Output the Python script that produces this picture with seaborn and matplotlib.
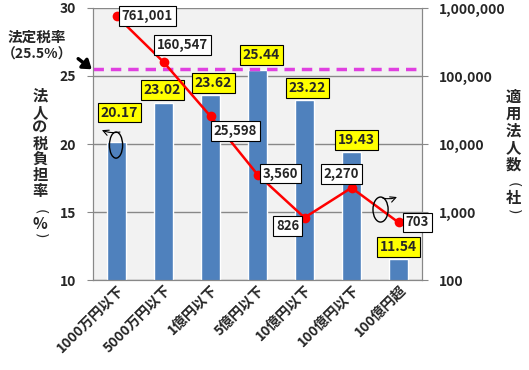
import numpy as np
import matplotlib
matplotlib.use('Agg')
import matplotlib.pyplot as plt
from matplotlib.patches import Ellipse, FancyArrowPatch
from matplotlib.ticker import FuncFormatter, FixedLocator, NullLocator
import seaborn as sns

# data
categories = ['1000万円以下', '5000万円以下', '1億円以下', '5億円以下',
              '10億円以下', '100億円以下', '100億円超']
tax_rate = [20.17, 23.02, 23.62, 25.44, 23.22, 19.43, 11.54]
n_companies = [761001, 160547, 25598, 3560, 826, 2270, 703]
legal_rate = 25.5

sns.set_style('white')
plt.rcParams['font.family'] = ['Noto Sans CJK JP', 'DejaVu Sans']

W, H = 529, 370
fig = plt.figure(figsize=(W / 100, H / 100), dpi=100)
ax = fig.add_axes([93 / W, 1 - 280 / H, 329 / W, 272 / H])
ax.set_facecolor('#F2F2F2')
ax.set_axisbelow(True)

sns.barplot(x=categories, y=tax_rate, ax=ax, color='#4F81BD', width=0.4,
            saturation=1, zorder=2)
ax.set_ylim(10, 30)
ax.yaxis.set_major_locator(FixedLocator([10, 15, 20, 25, 30]))
ax.yaxis.grid(True, color='#888888', linewidth=1)
ax.set_xlim(-0.5, len(categories) - 0.5)

# legal tax rate line
ax.axhline(legal_rate, color='#E040E0', linestyle=(0, (3, 2)), linewidth=2.5,
           zorder=3)

# second axis: number of companies (log)
ax2 = ax.twinx()
sns.lineplot(x=np.arange(len(categories)), y=n_companies, ax=ax2, color='#FF0000',
             linewidth=1.8, marker='o', markersize=7, markeredgewidth=0, zorder=5)
ax2.set_yscale('log')
ax2.set_ylim(100, 1000000)
ax2.yaxis.set_major_locator(FixedLocator([100, 1000, 10000, 100000, 1000000]))
ax2.yaxis.set_minor_locator(NullLocator())
ax2.yaxis.set_major_formatter(FuncFormatter(lambda v, p: f'{int(v):,}'))

for a in (ax, ax2):
    for s in a.spines.values():
        s.set_color('#888888')
    a.spines['top'].set_visible(False)
    a.tick_params(axis='both', direction='out', length=4, color='#888888',
                  labelsize=10)
    for lab in a.get_yticklabels():
        lab.set_fontweight('bold')
ax.tick_params(axis='y', pad=8)
ax2.tick_params(axis='y', pad=8)
ax.set_xticks(np.arange(-0.5, len(categories), 1.0), minor=True)
ax.tick_params(axis='x', which='major', length=0, pad=2)
ax.tick_params(axis='x', which='minor', length=5, color='#888888', direction='out')
ax.set_xticklabels(categories, rotation=45, ha='right', rotation_mode='anchor',
                   fontweight='bold', fontsize=10)

ax.set_xlabel('')
ax.set_ylabel('')
ax2.set_ylabel('')

# bar value labels (yellow boxes)
bar_offsets = [(3, 29), (-1, 13), (3, 12), (4, 15), (3, 12), (5, 12), (0, 12)]
for i, v in enumerate(tax_rate):
    ax.annotate(f'{v:.2f}', (i, v), xytext=bar_offsets[i], textcoords='offset pixels',
                ha='center', va='center', fontsize=10, fontweight='bold', zorder=6,
                bbox=dict(boxstyle='square,pad=0.2', fc='#FFFF00', ec='black', lw=0.8))

# line value labels (white boxes)
line_offsets = [(31, 0), (19, 17), (25, -15), (23, 1), (-17, -8), (-10, 14), (19, 0)]
for i, v in enumerate(n_companies):
    ax2.annotate(f'{v:,}', (i, v), xytext=line_offsets[i], textcoords='offset pixels',
                 ha='center', va='center', fontsize=9.5, fontweight='bold', zorder=6,
                 bbox=dict(boxstyle='square,pad=0.22', fc='white', ec='black', lw=0.8))


# axis titles, one character per line like the vertical text in the original
def vtext(x, y_first, text, pitch):
    for k, ch in enumerate(text):
        fig.text(x / W, 1 - (y_first + k * pitch) / H, ch, ha='center', va='center',
                 fontsize=11, fontweight='bold')


def vparen(x, y_open, y_mid, y_close, ch):
    fig.text(x / W, 1 - y_open / H, '(', ha='center', va='center', rotation=-90,
             fontsize=10, family='DejaVu Sans')
    fig.text(x / W, 1 - y_mid / H, ch, ha='center', va='center', fontsize=11,
             fontweight='bold')
    fig.text(x / W, 1 - y_close / H, ')', ha='center', va='center', rotation=-90,
             fontsize=10, family='DejaVu Sans')


vtext(40, 96, '法人の税負担率', 15.8)
vparen(40, 212, 224, 236, '%')
vtext(513, 97, '適用法人数', 16.8)
vparen(513, 185, 198, 212, '社')

# legal rate note with arrow
fig.text(37 / W, 1 - 37 / H, '法定税率', ha='center', va='center',
         fontsize=10.5, fontweight='bold')
fig.text(2 / W, 1 - 55 / H, '（25.5%）', ha='left', va='center',
         fontsize=10, fontweight='bold')
fig.add_artist(FancyArrowPatch(
    (76 / W, 1 - 57 / H), (94 / W, 1 - 71 / H), transform=fig.transFigure,
    arrowstyle='-|>,head_length=5,head_width=3.5', color='black', lw=2.5))

# ellipse markers telling which axis each series uses
ax.add_patch(Ellipse((0.070, 0.496), 0.040, 0.096, transform=ax.transAxes,
                     fill=False, ec='black', lw=1, zorder=7))
ax.annotate('', xy=(0.027, 0.551), xytext=(0.082, 0.544), xycoords='axes fraction',
            arrowprops=dict(arrowstyle='->', lw=0.8, color='black', shrinkA=0,
                            shrinkB=0, connectionstyle='arc3,rad=-0.15'), zorder=7)
ax2.add_patch(Ellipse((0.874, 0.259), 0.046, 0.092, transform=ax2.transAxes,
                      fill=False, ec='black', lw=1, zorder=7))
ax2.annotate('', xy=(0.924, 0.305), xytext=(0.881, 0.301), xycoords='axes fraction',
             arrowprops=dict(arrowstyle='->', lw=0.8, color='black', shrinkA=0,
                             shrinkB=0, connectionstyle='arc3,rad=0.15'), zorder=7)

fig.savefig('out.png', dpi=100)
